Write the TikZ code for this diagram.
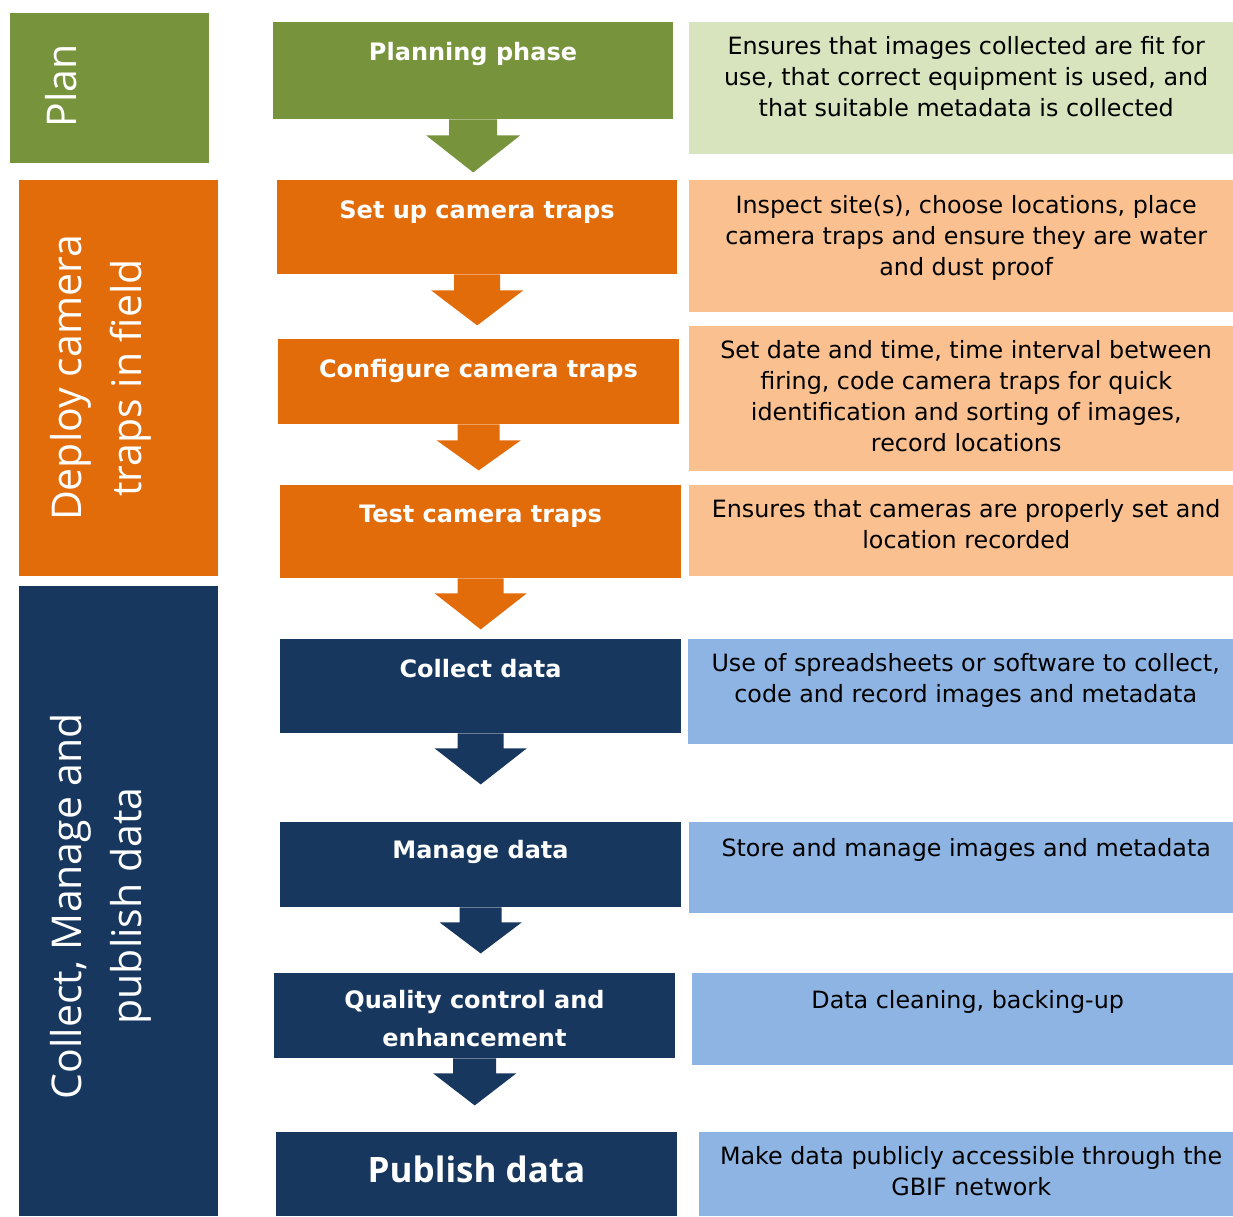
\documentclass[tikz,border=0pt]{standalone}
\usepackage{fontspec}
\setmainfont{Open Sans}
\newfontfamily\dvfont{DejaVu Sans}
\usetikzlibrary{calc}
\definecolor{cgreen}{HTML}{77933C}
\definecolor{corange}{HTML}{E36C0A}
\definecolor{cnavy}{HTML}{17375E}
\definecolor{lgreen}{HTML}{D7E4BD}
\definecolor{lorange}{HTML}{FAC090}
\definecolor{lblue}{HTML}{8EB4E3}
\newcommand\barrow[6]{\fill[#2] ($(#1.south)+(-#3,0)$) -- ($(#1.south)+(-#3,#5)$) -- ($(#1.south)+(-#4,#5)$) -- ($(#1.south)+(0,#5+#6)$) -- ($(#1.south)+(#4,#5)$) -- ($(#1.south)+(#3,#5)$) -- ($(#1.south)+(#3,0)$) -- cycle;}
\begin{document}
\begin{tikzpicture}[x=1pt,y=-1pt,
  box/.style={fill=#1, draw=none, inner sep=0pt, anchor=north west},
  steptxt/.style={text=white, font=\dvfont\fontsize{24}{38}\selectfont\bfseries, align=center, anchor=center},
  desc/.style={text=black, font=\dvfont\fontsize{23.8}{31}\selectfont, align=center, anchor=north},
  side/.style={text=white, font=\fontsize{41}{60}\selectfont, align=center, rotate=90, anchor=center}]
\useasboundingbox (0,0) rectangle (1233,1216);
% left phase boxes
\node[box=cgreen, minimum width=199pt, minimum height=150pt] (plan) at (10,13) {};
\node[box=corange, minimum width=199pt, minimum height=396pt] (deploy) at (19,180) {};
\node[box=cnavy, minimum width=199pt, minimum height=630pt] (collect) at (19,586) {};
\node[side] (plantxt) at (61,86) {Plan};
\node[side] (deploytxt) at (101,378) {Deploy camera\\traps in field};
\node[side] (collecttxt) at (101,906) {Collect, Manage and\\publish data};
% middle step boxes
\node[box=cgreen, minimum width=400pt, minimum height=97pt] (s1) at (273,22) {};
\node[box=corange, minimum width=400pt, minimum height=94pt] (s2) at (277,180) {};
\node[box=corange, minimum width=401pt, minimum height=85pt] (s3) at (278,339) {};
\node[box=corange, minimum width=401pt, minimum height=93pt] (s4) at (280,485) {};
\node[box=cnavy, minimum width=401pt, minimum height=94pt] (s5) at (280,639) {};
\node[box=cnavy, minimum width=401pt, minimum height=85pt] (s6) at (280,822) {};
\node[box=cnavy, minimum width=401pt, minimum height=85pt] (s7) at (274,973) {};
\node[box=cnavy, minimum width=401pt, minimum height=84pt] (s8) at (276,1132) {};
\node[steptxt] (t1) at (473,54) {Planning phase};
\node[steptxt] (t2) at (477,212) {Set up camera traps};
\node[steptxt] (t3) at (478.5,371) {Configure camera traps};
\node[steptxt] (t4) at (480.5,516) {Test camera traps};
\node[steptxt] (t5) at (480.5,669) {Collect data};
\node[steptxt] (t6) at (480.5,852) {Manage data};
\node[steptxt] (t7) at (474.5,1019) {Quality control and\\enhancement};
\node[steptxt, font=\fontsize{35}{40}\selectfont\bfseries] (t8) at (476.5,1169) {Publish data};
% block arrows
\barrow{s1}{cgreen}{24}{47}{16}{37}
\barrow{s2}{corange}{23}{46}{16}{35}
\barrow{s3}{corange}{21}{42}{16}{30}
\barrow{s4}{corange}{23}{46}{15}{36}
\barrow{s5}{cnavy}{23}{46}{15}{36}
\barrow{s6}{cnavy}{21}{41}{15}{31}
\barrow{s7}{cnavy}{21.5}{41.5}{15}{32}
% description boxes
\node[box=lgreen, minimum width=544pt, minimum height=132pt] (d1) at (689,22) {};
\node[box=lorange, minimum width=544pt, minimum height=132pt] (d2) at (689,180) {};
\node[box=lorange, minimum width=544pt, minimum height=145pt] (d3) at (689,326) {};
\node[box=lorange, minimum width=544pt, minimum height=91pt] (d4) at (689,485) {};
\node[box=lblue, minimum width=545pt, minimum height=105pt] (d5) at (688,639) {};
\node[box=lblue, minimum width=544pt, minimum height=91pt] (d6) at (689,822) {};
\node[box=lblue, minimum width=541pt, minimum height=92pt] (d7) at (692,973) {};
\node[box=lblue, minimum width=534pt, minimum height=84pt] (d8) at (699,1132) {};
\node[desc] (e1) at ($(d1.north)+(5,11)$) {Ensures that images collected are fit for\\use, that correct equipment is used, and\\that suitable metadata is collected};
\node[desc] (e2) at ($(d2.north)+(5,12)$) {Inspect site(s), choose locations, place\\camera traps and ensure they are water\\and dust proof};
\node[desc] (e3) at ($(d3.north)+(5,11)$) {Set date and time, time interval between\\firing, code camera traps for quick\\identification and sorting of images,\\record locations};
\node[desc] (e4) at ($(d4.north)+(5,11)$) {Ensures that cameras are properly set and\\location recorded};
\node[desc] (e5) at ($(d5.north)+(5,11)$) {Use of spreadsheets or software to collect,\\code and record images and metadata};
\node[desc] (e6) at ($(d6.north)+(5,13)$) {Store and manage images and metadata};
\node[desc] (e7) at ($(d7.north)+(5,14)$) {Data cleaning, backing-up};
\node[desc] (e8) at ($(d8.north)+(5,11)$) {Make data publicly accessible through the\\GBIF network};
\end{tikzpicture}
\end{document}
